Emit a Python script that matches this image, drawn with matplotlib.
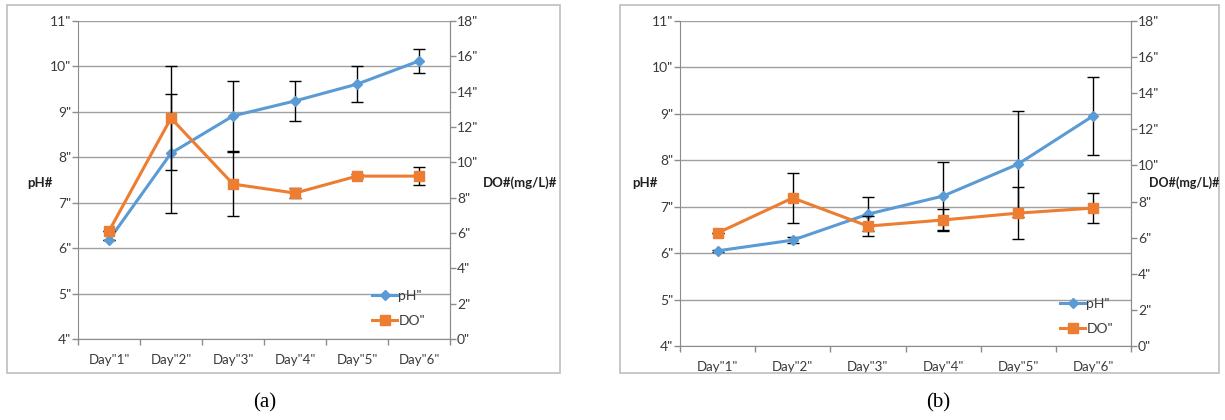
import matplotlib
matplotlib.use("Agg")
import matplotlib.pyplot as plt
from matplotlib.patches import Rectangle

plt.rcParams['font.family'] = ['Lato', 'DejaVu Sans']

# ---------------- data ----------------
days = ['Day"1"', 'Day"2"', 'Day"3"', 'Day"4"', 'Day"5"', 'Day"6"']
ph_ticks = [4, 5, 6, 7, 8, 9, 10, 11]
do_ticks = [0, 2, 4, 6, 8, 10, 12, 14, 16, 18]

# panel (a)
ph_a = [6.18, 8.09, 8.91, 9.24, 9.61, 10.12]
ph_a_err = [0.0, 1.31, 0.77, 0.44, 0.40, 0.27]
do_a = [6.11, 12.50, 8.77, 8.26, 9.22, 9.22]
do_a_err = [0.0, 2.95, 1.80, 0.28, 0.12, 0.50]

# panel (b)
ph_b = [6.05, 6.28, 6.84, 7.23, 7.92, 8.96]
ph_b_err = [0.02, 0.06, 0.37, 0.74, 1.14, 0.84]
do_b = [6.26, 8.20, 6.64, 6.98, 7.36, 7.64]
do_b_err = [0.0, 1.40, 0.55, 0.60, 1.44, 0.85]

BLUE = '#5B9BD5'
ORANGE = '#ED7D31'
GRID = '#A0A0A0'
AXC = '#8C8C8C'
TXT = '#3A3A3A'

W, H = 1225, 420
fig = plt.figure(figsize=(W / 100, H / 100), dpi=100)


def fx(px):
    return px / W


def fy(py):
    return 1 - py / H


def panel(left, right, top, bottom, ph, ph_err, do, do_err, leg_x, leg_y,
          ylab_x, do_lab_x, do_lab_size, frame, cap, cap_x):
    ax = fig.add_axes([fx(left), fy(bottom), fx(right - left), (bottom - top) / H])
    ax.set_xlim(-0.5, 5.5)
    ax.set_ylim(4, 11)
    x = list(range(len(days)))
    ax.set_yticks(ph_ticks)
    ax.set_yticklabels([f'{v}"' for v in ph_ticks], color=TXT, fontsize=10)
    ax.set_xticks(x)
    ax.set_xticklabels(days, color=TXT, fontsize=9.5)
    ax.set_xticks([i - 0.5 for i in range(len(days) + 1)], minor=True)
    ax.tick_params(axis='x', which='major', length=0, pad=11)
    ax.tick_params(axis='x', which='minor', length=4.5, color=AXC, width=1)
    ax.tick_params(axis='y', length=4, color=AXC, width=1, pad=1)
    ax.grid(axis='y', color=GRID, linewidth=1)
    ax.set_axisbelow(True)
    ax.spines['top'].set_visible(False)
    for s in ['left', 'bottom', 'right']:
        ax.spines[s].set_color(AXC)
    ax.errorbar(x, ph, yerr=ph_err, fmt='none', ecolor='black', elinewidth=1,
                capsize=4, capthick=1, zorder=2)
    l1, = ax.plot(x, ph, color=BLUE, linewidth=2.2, marker='D', markersize=5.5,
                  zorder=3)

    ax2 = ax.twinx()
    ax2.set_ylim(0, 18)
    ax2.set_yticks(do_ticks)
    ax2.set_yticklabels([f'{v}"' for v in do_ticks], color=TXT, fontsize=10)
    ax2.tick_params(axis='y', length=4, color=AXC, width=1, pad=1)
    for s in ['top', 'left', 'bottom']:
        ax2.spines[s].set_visible(False)
    ax2.spines['right'].set_color(AXC)
    ax2.errorbar(x, do, yerr=do_err, fmt='none', ecolor='black', elinewidth=1,
                 capsize=4, capthick=1, zorder=2)
    l2, = ax2.plot(x, do, color=ORANGE, linewidth=2.2, marker='s', markersize=7.5,
                   zorder=3)

    fig.legend([l1, l2], ['pH"', 'DO"'], loc='upper left',
               bbox_to_anchor=(fx(leg_x), fy(leg_y)), frameon=False,
               fontsize=10, handlelength=1.8, handletextpad=0.1,
               labelspacing=0.95, borderpad=0, borderaxespad=0,
               labelcolor=TXT)

    fig.text(fx(ylab_x), fy(183), 'pH#', fontsize=9.5, fontweight='bold',
             color='#202020', ha='left', va='center')
    fig.text(fx(do_lab_x), fy(183), 'DO#(mg/L)#', fontsize=do_lab_size,
             fontweight='bold', color='#202020', ha='left', va='center')

    fx0, fy0, fx1, fy1 = frame
    fig.patches.append(Rectangle((fx(fx0), fy(fy1)), fx(fx1 - fx0), (fy1 - fy0) / H,
                                 transform=fig.transFigure, fill=False,
                                 edgecolor='#BFBFBF', linewidth=1.2))
    fig.text(fx(cap_x), fy(403), cap, fontsize=15, family='Liberation Serif',
             ha='center', va='center', color='black')
    return ax, ax2


panel(78, 450, 21, 339, ph_a, ph_a_err, do_a, do_a_err,
      leg_x=372, leg_y=290, ylab_x=27, do_lab_x=483, do_lab_size=9.5,
      frame=(7, 5, 560, 373), cap='(a)', cap_x=265)

panel(680, 1131, 21, 346, ph_b, ph_b_err, do_b, do_b_err,
      leg_x=1060, leg_y=298, ylab_x=632, do_lab_x=1149, do_lab_size=9,
      frame=(620, 5, 1219, 373), cap='(b)', cap_x=938)

fig.savefig('out.png', dpi=100)
